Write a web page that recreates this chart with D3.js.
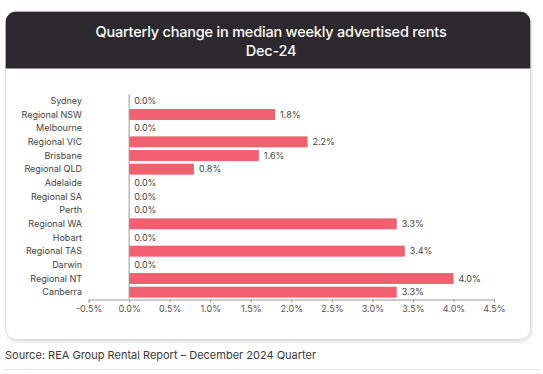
<!DOCTYPE html>
<html>
<head>
<meta charset="utf-8">
<script src="https://cdn.jsdelivr.net/npm/d3@7"></script>
<style>
  body { margin: 0; background: #fff; }
  svg { display: block; }
</style>
</head>
<body>
<div id="chart"></div>
<script>
// data
const regions = [
  "Sydney", "Regional NSW", "Melbourne", "Regional VIC", "Brisbane",
  "Regional QLD", "Adelaide", "Regional SA", "Perth", "Regional WA",
  "Hobart", "Regional TAS", "Darwin", "Regional NT", "Canberra",
];
const changes = [0.0, 1.8, 0.0, 2.2, 1.6, 0.8, 0.0, 0.0, 0.0, 3.3, 0.0, 3.4, 0.0, 4.0, 3.3];
const ticks = [-0.5, 0, 0.5, 1, 1.5, 2, 2.5, 3, 3.5, 4, 4.5];
const titleLines = ["Quarterly change in median weekly advertised rents", "Dec-24"];
const source = "Source: REA Group Rental Report \u2013 December 2024 Quarter";

const width = 543;
const height = 374;
const font = "Inter, 'Noto Sans', sans-serif";
const pct = (v) => v.toFixed(1) + "%"; // plain hyphen for negatives

const svg = d3.select("#chart").append("svg")
  .attr("width", width).attr("height", height);

// card with shadow
const defs = svg.append("defs");
const shadow = defs.append("filter").attr("id", "shadow")
  .attr("x", "-5%").attr("y", "-5%").attr("width", "110%").attr("height", "115%");
shadow.append("feDropShadow")
  .attr("dx", 1).attr("dy", 2).attr("stdDeviation", 1.5)
  .attr("flood-color", "#000").attr("flood-opacity", 0.12);

const card = { x: 5.5, y: 11.5, w: 525, h: 328, r: 11, head: 57 };

svg.append("rect")
  .attr("x", card.x).attr("y", card.y)
  .attr("width", card.w).attr("height", card.h)
  .attr("rx", card.r)
  .attr("fill", "#fff").attr("stroke", "#dcdcdc")
  .attr("filter", "url(#shadow)");

defs.append("clipPath").attr("id", "cardClip")
  .append("rect")
  .attr("x", card.x).attr("y", card.y)
  .attr("width", card.w).attr("height", card.h)
  .attr("rx", card.r);

svg.append("rect")
  .attr("clip-path", "url(#cardClip)")
  .attr("x", card.x).attr("y", card.y)
  .attr("width", card.w).attr("height", card.head)
  .attr("fill", "#2b292d");

svg.append("g").selectAll("text")
  .data(titleLines)
  .join("text")
  .attr("x", 271)
  .attr("y", (d, i) => 37 + i * 19)
  .attr("text-anchor", "middle")
  .attr("fill", "#fff")
  .attr("font-family", font)
  .attr("font-size", 14.5)
  .attr("font-weight", 500)
  .attr("letter-spacing", -0.2)
  .text((d) => d);

// scales
const x = d3.scaleLinear().domain([-0.5, 4.5]).range([88.6, 494]);
const y = d3.scaleBand().domain(regions).range([94, 299]).paddingInner(0.2).paddingOuter(0.1);

const plot = svg.append("g");

// bars
plot.selectAll("rect.bar")
  .data(regions)
  .join("rect")
  .attr("class", "bar")
  .attr("x", x(0))
  .attr("y", (d) => y(d))
  .attr("width", (d, i) => Math.max(0, x(changes[i]) - x(0)))
  .attr("height", y.bandwidth())
  .attr("fill", "#f0606e");

// value labels
plot.selectAll("text.val")
  .data(regions)
  .join("text")
  .attr("class", "val")
  .attr("x", (d, i) => x(changes[i]) + 5)
  .attr("y", (d) => y(d) + y.bandwidth() / 2)
  .attr("dy", "0.35em")
  .attr("font-family", font)
  .attr("font-size", 9)
  .attr("fill", "#444")
  .text((d, i) => pct(changes[i]));

// category labels
plot.selectAll("text.cat")
  .data(regions)
  .join("text")
  .attr("class", "cat")
  .attr("x", 82)
  .attr("y", (d) => y(d) + y.bandwidth() / 2)
  .attr("dy", "0.35em")
  .attr("text-anchor", "end")
  .attr("font-family", font)
  .attr("font-size", 9)
  .attr("fill", "#444")
  .text((d) => d);

// zero line
plot.append("line")
  .attr("x1", x(0)).attr("x2", x(0))
  .attr("y1", 94).attr("y2", 299)
  .attr("stroke", "#9a9a9a").attr("stroke-width", 1);

// x axis
const xAxis = svg.append("g")
  .attr("transform", "translate(0,299.5)")
  .call(d3.axisBottom(x).tickValues(ticks).tickSize(3).tickPadding(3)
    .tickFormat(pct));
xAxis.select(".domain").attr("stroke", "#9a9a9a");
xAxis.selectAll(".tick line").attr("stroke", "#9a9a9a");
xAxis.selectAll(".tick text")
  .attr("font-family", font)
  .attr("font-size", 9)
  .attr("fill", "#555");

// source
svg.append("text")
  .attr("x", 5)
  .attr("y", 359)
  .attr("font-family", font)
  .attr("font-size", 11)
  .attr("fill", "#3a3a3a")
  .text(source);

svg.append("line")
  .attr("x1", 3).attr("x2", 540)
  .attr("y1", 369.5).attr("y2", 369.5)
  .attr("stroke", "#e2e2e2");
</script>
</body>
</html>
